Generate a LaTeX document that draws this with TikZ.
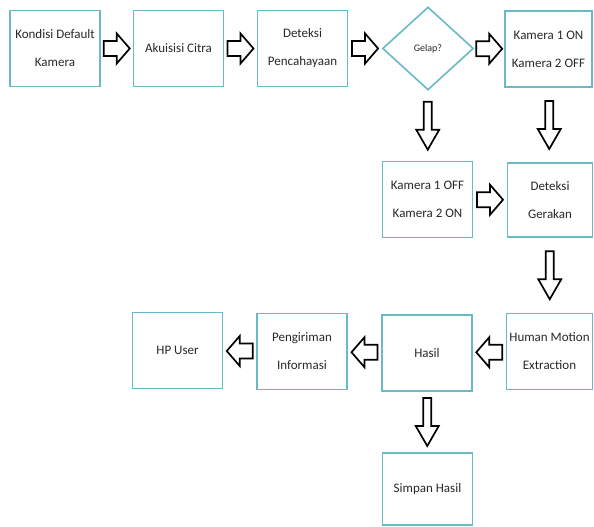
\documentclass[tikz,border=0pt]{standalone}
\usepackage{fontspec}
\setmainfont{Carlito}
\usetikzlibrary{shapes.geometric,calc}
\definecolor{boxline}{RGB}{105,186,198}
\definecolor{boxtext}{RGB}{40,40,40}

\begin{document}
\begin{tikzpicture}[x = 1pt, y = -1pt]
\tikzstyle{stepBox}=[shape = rectangle, draw = boxline, line width = 1.9pt, fill = white, minimum width = 90pt, minimum height = 76pt, inner sep = 2pt, align = center, text = boxtext, font = \fontsize{13}{28}\selectfont]
\tikzstyle{decisionStyle}=[shape = diamond, draw = boxline, line width = 1.6pt, fill = white, minimum width = 91pt, minimum height = 83pt, inner sep = 0pt, text = boxtext, font = \fontsize{10}{12}\selectfont]
\tikzstyle{arrowLine}=[draw = black, line width = 1.7pt, fill = white, line join = miter]
\tikzset{flatArrow/.pic = {\path[arrowLine] (-13,-7.5) -- (0,-7.5) -- (0,-15) -- (13,0) -- (0,15) -- (0,7.5) -- (-13,7.5) -- cycle;},
  tallArrow/.pic = {\path[arrowLine] (-4,-24) -- (-4,4) -- (-11.5,4) -- (0,24) -- (11.5,4) -- (4,4) -- (4,-24) -- cycle;}}
\useasboundingbox (0,0) rectangle (594,527);
% baris atas
\node[stepBox] (kondisi) at (55, 48.5) {Kondisi Default\\Kamera};
\node[stepBox] (akuisisi) at (178.5, 48.5) {Akuisisi Citra};
\node[stepBox] (deteksi) at (302.5, 48.5) {Deteksi\\Pencahayaan};
\node[decisionStyle] (gelap) at (428, 48.5) {Gelap?};
\node[stepBox, minimum width = 87pt] (kamon) at (548.5, 49) {Kamera 1 ON\\Kamera 2 OFF};
% baris tengah
\node[stepBox] (kamoff) at (427.5, 199.5) {Kamera 1 OFF\\Kamera 2 ON};
\node[stepBox, minimum width = 85pt, minimum height = 74pt] (gerakan) at (550, 200) {Deteksi\\Gerakan};
% baris bawah
\node[stepBox, minimum width = 86pt] (hme) at (549.5, 351.5) {Human Motion\\Extraction};
\node[stepBox] (hasil) at (427, 353) {Hasil};
\node[stepBox] (kirim) at (302, 351.5) {Pengiriman\\Informasi};
\node[stepBox] (hp) at (177.5, 350.5) {HP User};
\node[stepBox, minimum height = 72pt] (simpan) at (427.5, 489) {Simpan Hasil};
% panah
\pic at ($(kondisi.east)!0.5!(akuisisi.west)$) {flatArrow};
\pic at ($(akuisisi.east)!0.5!(deteksi.west)$) {flatArrow};
\pic at ($(deteksi.east)!0.5!(gelap.west)$) {flatArrow};
\pic at ($(gelap.east)!0.5!(kamon.west)$) {flatArrow};
\pic at ($(gelap.south)!0.5!(kamoff.north)$) {tallArrow};
\pic at ($(kamon.south)!0.5!(gerakan.north)$) {tallArrow};
\pic at ($(kamoff.east)!0.5!(gerakan.west)$) {flatArrow};
\pic at ($(gerakan.south)!0.5!(hme.north)$) {tallArrow};
\pic[rotate = 180] at ($(hme.west)!0.5!(hasil.east)$) {flatArrow};
\pic[rotate = 180] at ($(hasil.west)!0.5!(kirim.east)$) {flatArrow};
\pic[rotate = 180] at ($(kirim.west)!0.5!(hp.east)$) {flatArrow};
\pic at ($(hasil.south)!0.5!(simpan.north)$) {tallArrow};
\end{tikzpicture}
\end{document}
